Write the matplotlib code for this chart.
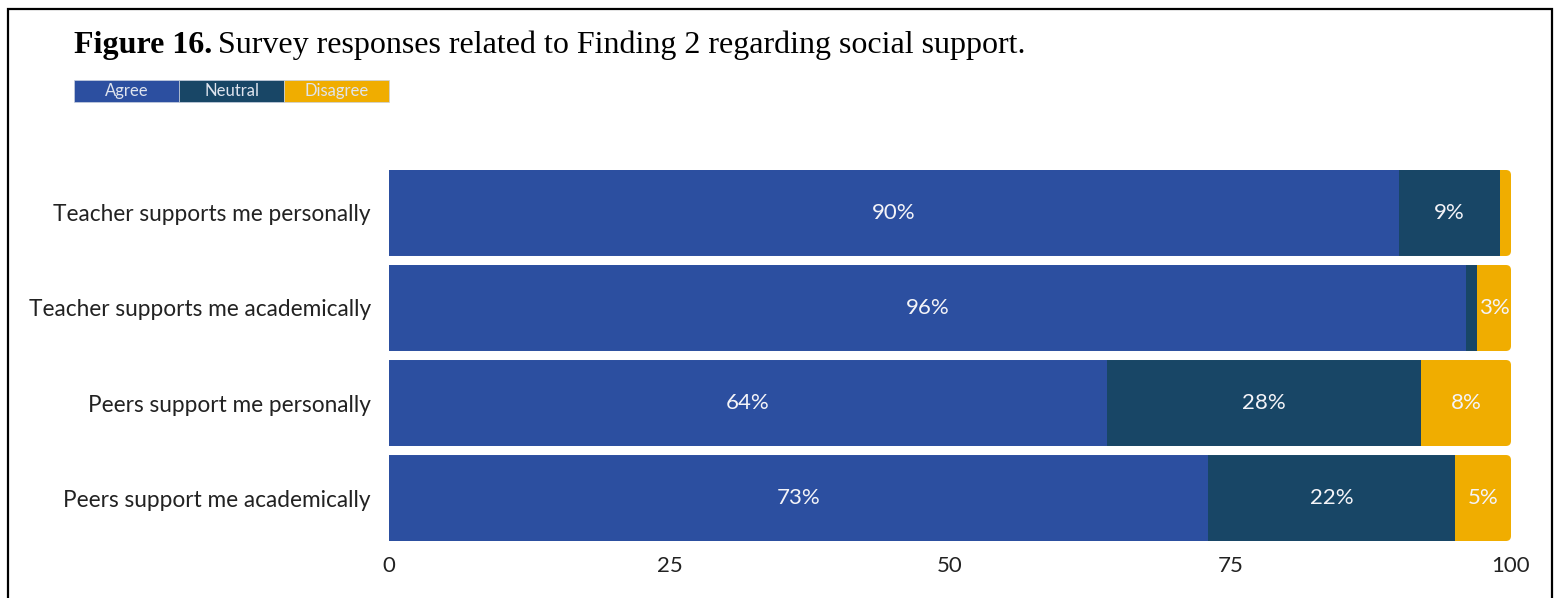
import matplotlib.pyplot as plt
from matplotlib.patches import FancyBboxPatch, Rectangle

# survey data (percent of responses)
items = ['Teacher supports me personally', 'Teacher supports me academically',
         'Peers support me personally', 'Peers support me academically']
agree = [90, 96, 64, 73]
neutral = [9, 1, 28, 22]
disagree = [1, 3, 8, 5]
ticks = [0, 25, 50, 75, 100]
categories = ['Agree', 'Neutral', 'Disagree']

c_agree = '#2c4fa0'
c_neutral = '#184666'
c_disagree = '#f0ad00'
colors = [c_agree, c_neutral, c_disagree]
font = 'Lato'
W, H = 1559, 598

fig = plt.figure(figsize=(W / 100, H / 100), dpi=100)
ax = fig.add_axes([389 / W, 1 - 541 / H, 1122 / W, 371 / H])

h = 0.905
for i in range(len(items)):
    segs = [(0, agree[i], c_agree),
            (agree[i], neutral[i], c_neutral),
            (agree[i] + neutral[i], disagree[i], c_disagree)]
    # rounded right end of each bar
    clip = FancyBboxPatch((-5, i - h / 2), 5 + agree[i] + neutral[i] + disagree[i], h,
                          boxstyle='round,pad=0,rounding_size=0.45',
                          mutation_aspect=0.118, transform=ax.transData,
                          facecolor='none', edgecolor='none')
    ax.add_patch(clip)
    for left, w, col in segs:
        b = ax.barh(i, w, left=left, height=h, color=col, linewidth=0)
        b[0].set_clip_path(clip)
        if w >= 3:
            ax.text(left + w / 2, i, f'{w}%', ha='center', va='center',
                    color='#f4f4f8', fontsize=16, family=font)

ax.set_xlim(0, 100)
ax.set_ylim(len(items) - 1 + h / 2, -h / 2)
ax.set_yticks(range(len(items)))
ax.set_yticklabels(items, fontsize=16.3, family=font, color='#222222')
ax.set_xticks(ticks)
ax.set_xticklabels([str(t) for t in ticks], fontsize=16, family=font, color='#222222')
ax.tick_params(length=0, axis='y', pad=13)
ax.tick_params(length=0, axis='x', pad=11)
for s in ax.spines.values():
    s.set_visible(False)

# legend boxes
for k, (name, col) in enumerate(zip(categories, colors)):
    x0 = 74 + 105 * k
    fig.patches.append(Rectangle((x0 / W, 1 - 102 / H), 105 / W, 22 / H,
                                 transform=fig.transFigure, facecolor=col,
                                 edgecolor='#c8d0e0', linewidth=0.5))
    fig.text((x0 + 52.5) / W, 1 - 91 / H, name, ha='center', va='center',
             color='#dfe4ee', fontsize=12, family=font)

# title: bold label followed by regular text
t1 = fig.text(74 / W, 1 - 53 / H, 'Figure 16.', fontsize=23, weight='bold',
              family='Liberation Serif', va='baseline')
fig.canvas.draw()
bb = t1.get_window_extent()
fig.text((bb.x1 + 6) / W, 1 - 53 / H,
         'Survey responses related to Finding 2 regarding social support.',
         fontsize=23, family='Liberation Serif', va='baseline')

# outer frame
fig.patches.append(Rectangle((8 / W, -0.05), 1544 / W, 1.05 - 9 / H,
                             transform=fig.transFigure, facecolor='none',
                             edgecolor='black', linewidth=1.6))

fig.savefig('out.png')
